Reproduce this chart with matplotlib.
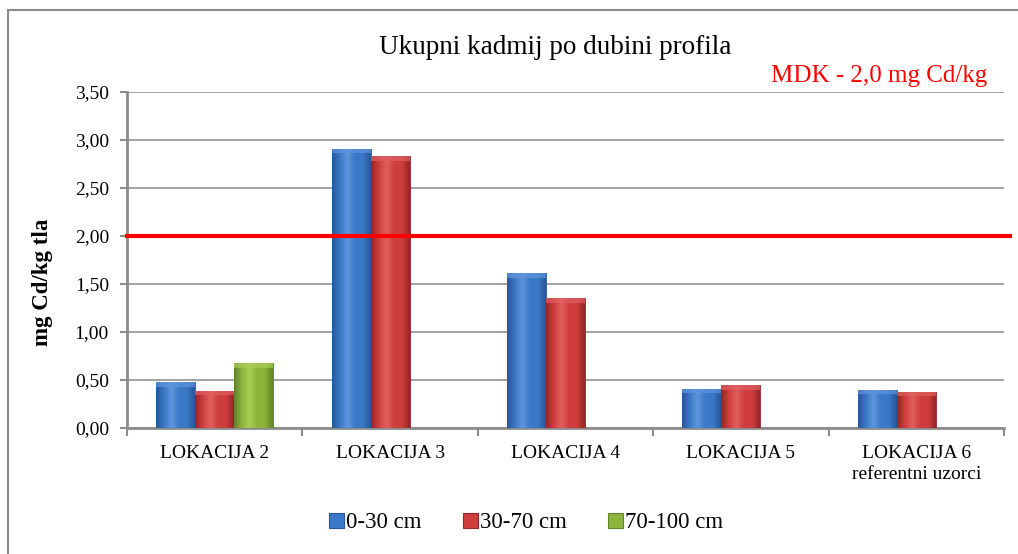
import numpy as np
import matplotlib
matplotlib.use("Agg")
import matplotlib.pyplot as plt
from matplotlib.colors import LinearSegmentedColormap
from matplotlib.patches import Rectangle, Patch

plt.rcParams["font.family"] = ["Liberation Serif", "DejaVu Serif"]

locations = ["LOKACIJA 2", "LOKACIJA 3", "LOKACIJA 4", "LOKACIJA 5",
             "LOKACIJA 6\nreferentni uzorci"]
depths = ["0-30 cm", "30-70 cm", "70-100 cm"]
cd_0_30 = [0.48, 2.91, 1.61, 0.41, 0.40]
cd_30_70 = [0.39, 2.83, 1.35, 0.45, 0.38]
cd_70_100 = [0.68, None, None, None, None]
mdk_limit = 2.0

# base, light, dark shades for each depth series
palette = [
    ("#3b78c8", "#5f95dc", "#27579a"),
    ("#cf3d3d", "#e06060", "#962626"),
    ("#8db43a", "#a8cc52", "#62822a"),
]

fig = plt.figure(figsize=(10.18, 5.54), dpi=100)
ax = fig.add_axes([127 / 1018, 1 - 428 / 554, 877 / 1018, 336 / 554])

# outer chart frame
fig.add_artist(Rectangle((8 / 1018, -0.1), 1.2, 1.1 - 10 / 554,
                         transform=fig.transFigure, fill=False,
                         edgecolor="#8c8c8c", lw=1.5))

x = np.arange(len(locations))
width = 0.222
series = [cd_0_30, cd_30_70, cd_70_100]

for k, vals in enumerate(series):
    base, light, dark = palette[k]
    cmap = LinearSegmentedColormap.from_list(
        f"s{k}", [dark, base, light, base, base, dark])
    grad = np.linspace(0, 1, 64).reshape(1, -1)
    for i, v in enumerate(vals):
        if v is None:
            continue
        xc = x[i] + (k - 1) * width
        bar = ax.bar(xc, v, width, color=base, edgecolor=dark,
                     linewidth=0.6, zorder=3)[0]
        im = ax.imshow(grad, cmap=cmap, aspect="auto", zorder=3.5,
                       extent=(xc - width / 2, xc + width / 2, 0, v),
                       interpolation="bicubic")
        im.set_clip_path(bar)
        # lighter bevel on the top edge
        ax.add_patch(Rectangle((xc - width / 2, v - 0.05), width, 0.05,
                               facecolor=light, edgecolor="none",
                               alpha=0.7, zorder=4))

ax.set_xlim(-0.5, len(locations) - 0.5)
ax.set_ylim(0, 3.5)
ax.set_aspect("auto")

ax.axhline(mdk_limit, xmin=0, xmax=1.007, color="#ff0000", lw=3,
           zorder=5, clip_on=False)

yt = np.arange(0, 3.51, 0.5)
ax.set_yticks(yt)
ax.set_yticklabels([f"{t:.2f}".replace(".", ",") for t in yt], fontsize=14)
ax.yaxis.grid(True, color="#9a9a9a", lw=1.3, zorder=0)
ax.set_axisbelow(True)

ax.set_xticks(x)
ax.set_xticklabels(locations, fontsize=14, linespacing=1.3)
ax.tick_params(axis="x", length=0, pad=12)
ax.set_xticks(np.arange(-0.5, len(locations)), minor=True)
ax.tick_params(axis="x", which="minor", length=6, width=1.5,
               color="#8c8c8c", direction="out")
ax.tick_params(axis="y", length=5, width=1.5, color="#8c8c8c",
               direction="out", pad=8)

for side in ("top", "right"):
    ax.spines[side].set_visible(False)
for side in ("left", "bottom"):
    ax.spines[side].set_color("#8c8c8c")
    ax.spines[side].set_linewidth(2)

ax.set_ylabel("mg Cd/kg tla", fontsize=16.5, fontweight="bold")
ax.yaxis.set_label_coords(-0.084, 0.435)

fig.text(555 / 1018, 1 - 47 / 554, "Ukupni kadmij po dubini profila",
         ha="center", va="center", fontsize=19.5)
fig.text(879 / 1018, 1 - 76 / 554, "MDK - 2,0 mg Cd/kg", color="#ff0000",
         ha="center", va="center", fontsize=18)

handles = [Patch(facecolor=palette[k][0], edgecolor=palette[k][2], lw=0.8)
           for k in range(3)]
fig.legend(handles, depths, loc="center", bbox_to_anchor=(526 / 1018, 1 - 523 / 554),
           ncol=3, frameon=False, fontsize=16.5, handlelength=0.65,
           handleheight=0.65, handletextpad=0.1, columnspacing=1.8)

fig.savefig("out.png", dpi=100)
